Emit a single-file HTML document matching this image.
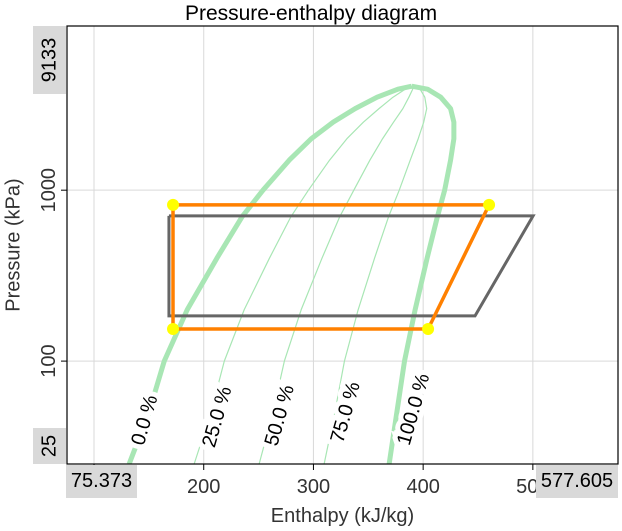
<!DOCTYPE html>
<html><head><meta charset="utf-8"><style>
body{margin:0;background:#fff;}
svg{display:block;font-family:"Liberation Sans",Arial,sans-serif;}
</style></head><body>
<svg id="c" width="622" height="531"></svg>
<script>
const pressures=[25,50,100,200,400,700,1000,1500,2000,2500,3000,3500,3900,4059];
const hLiquid=[132,150,164,185,212,235,254,278,298,318,338,358,377,389.6];
const hVapor=[369,376,383,392.7,403.6,413,419.6,425,428,428,425,416,404,389.6];
const qualities=[0,0.25,0.5,0.75,1];
const qualityLabels=["0.0 %","25.0 %","50.0 %","75.0 %","100.0 %"];
const qualityLabelH=[147,213,270,330,392];
const qualityLabelP=[45,47,48,50,52];
const cycleOrangeH=[172,460.1,404.5,172,172];
const cycleOrangeP=[820,820,154,154,820];
const cycleGrayH=[168.3,500.2,447.3,168.3,168.3];
const cycleGrayP=[707,707,184,184,707];
const dotH=[172,460.1,404.5,172];
const dotP=[820,820,154,154];
const xTicks=[100,200,300,400,500];
const xTickLabels=["","200","300","400","500"];
const yTicks=[100,1000];
const yTickLabels=["100","1000"];
const xMin=75.373,xMax=577.605,yMin=25,yMax=9133;
const L=67,R=618,T=26,B=464;
const sx=h=>L+(h-xMin)/(xMax-xMin)*(R-L);
const sy=p=>B-(Math.log10(p)-Math.log10(yMin))/(Math.log10(yMax)-Math.log10(yMin))*(B-T);
const NS="http://www.w3.org/2000/svg";
const svg=document.getElementById('c');
function mk(tag,attrs,parent){const e=document.createElementNS(NS,tag);for(const k in attrs)e.setAttribute(k,attrs[k]);(parent||svg).appendChild(e);return e;}
const defs=mk('defs',{});
const cp=mk('clipPath',{id:'pa'},defs);mk('rect',{x:L,y:T,width:R-L,height:B-T},cp);
xTicks.forEach((v,i)=>{const g=mk('line',{x1:sx(v),x2:sx(v),y1:T,y2:B,stroke:'#d9d9d9','stroke-width':1});

const t=mk('line',{x1:sx(v),x2:sx(v),y1:B,y2:B+6,stroke:'#000'});

if(xTickLabels[i]){const tx=mk('text',{x:sx(v),y:B+29,'text-anchor':'middle','font-size':20,fill:'#333'});tx.textContent=xTickLabels[i];
}});
yTicks.forEach((v,i)=>{const g=mk('line',{x1:L,x2:R,y1:sy(v),y2:sy(v),stroke:'#d9d9d9','stroke-width':1});

const t=mk('line',{x1:L-6,x2:L,y1:sy(v),y2:sy(v),stroke:'#000'});

const tx=mk('text',{x:0,y:0,transform:`translate(${L-12},${sy(v)}) rotate(-90)`,'text-anchor':'middle','font-size':20,fill:'#333'});tx.textContent=yTickLabels[i];
});
const plot=mk('g',{'clip-path':'url(#pa)'});

qualities.forEach((q,qi)=>{
 const pts=pressures.map((p,i)=>[sx(hLiquid[i]+q*(hVapor[i]-hLiquid[i])),sy(p)]);
 const thick=(q===0||q===1);
 const pl=mk('polyline',{points:pts.map(a=>a.join(',')).join(' '),fill:'none',stroke:'#a8e6b4','stroke-width':thick?5:1.2,'stroke-linejoin':'round'},plot);
 
});
qualities.forEach((q,qi)=>{
 const x=sx(qualityLabelH[qi]),y=sy(qualityLabelP[qi]);
 const t=mk('text',{x:0,y:0,transform:`translate(${x},${y}) rotate(-74)`,'text-anchor':'middle','dominant-baseline':'middle','font-size':20,fill:'#000',stroke:'#fff','stroke-width':10,'paint-order':'stroke'},plot);
 t.textContent=qualityLabels[qi];
 
});
const g1=mk('polyline',{points:cycleGrayH.map((h,i)=>sx(h)+','+sy(cycleGrayP[i])).join(' '),fill:'none',stroke:'#666','stroke-width':3},plot);

const o1=mk('polyline',{points:cycleOrangeH.map((h,i)=>sx(h)+','+sy(cycleOrangeP[i])).join(' '),fill:'none',stroke:'#ff8000','stroke-width':3.5},plot);

dotH.forEach((h,i)=>{const c=mk('circle',{cx:sx(h),cy:sy(dotP[i]),r:6,fill:'#ffff00'},plot);
});
const fr=mk('rect',{x:L,y:T,width:R-L,height:B-T,fill:'none',stroke:'#000','stroke-width':1.2});

</script>
<div style="position:absolute;left:0;top:0;width:622px;height:531px;pointer-events:none;font-family:'Liberation Sans',Arial,sans-serif;">
<div style="position:absolute;left:0;width:622px;top:2px;text-align:center;font-size:21px;color:#000;">Pressure-enthalpy diagram</div>
<div style="position:absolute;left:33px;top:26px;width:33px;height:68px;background:#d9d9d9;"><div style="position:absolute;left:50%;top:50%;transform:translate(-50%,-50%) rotate(-90deg);font-size:20px;color:#000;">9133</div></div>
<div style="position:absolute;left:33px;top:428px;width:33px;height:36px;background:#d9d9d9;"><div style="position:absolute;left:50%;top:50%;transform:translate(-50%,-50%) rotate(-90deg);font-size:20px;color:#000;">25</div></div>
<div style="position:absolute;left:66px;top:465px;width:71px;height:33px;background:#d9d9d9;font-size:20px;line-height:33px;text-align:center;color:#000;">75.373</div>
<div style="position:absolute;left:536px;top:465px;width:82px;height:33px;background:#d9d9d9;font-size:20px;line-height:33px;text-align:center;color:#000;">577.605</div>
<div style="position:absolute;left:67px;width:551px;top:505px;text-align:center;font-size:20px;color:#333;">Enthalpy (kJ/kg)</div>
<div style="position:absolute;left:14px;top:245px;transform:translate(-50%,-50%) rotate(-90deg);font-size:20px;color:#333;white-space:nowrap;">Pressure (kPa)</div>
</div>
</body></html>
